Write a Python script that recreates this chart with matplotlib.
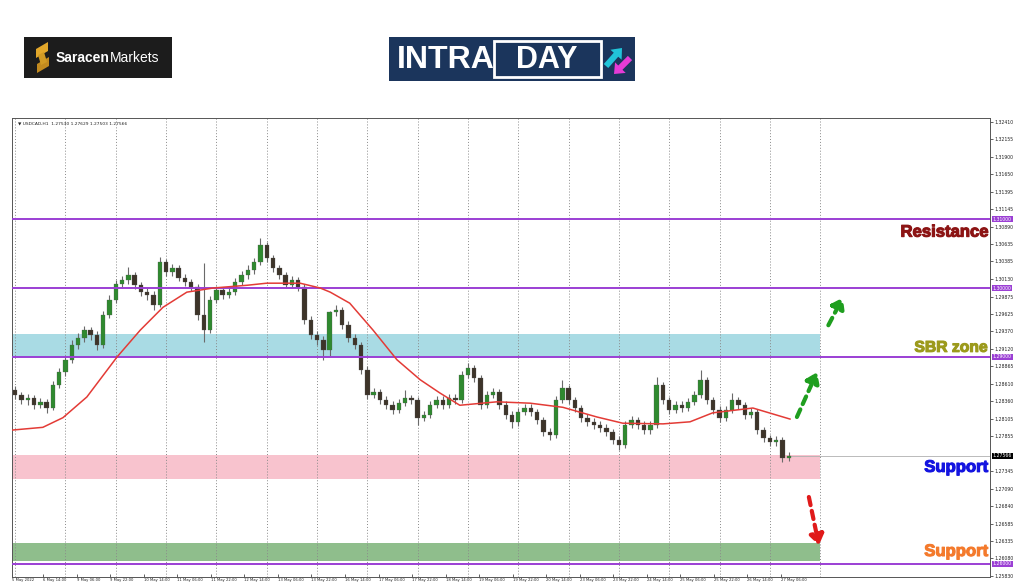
import numpy as np
import matplotlib.pyplot as plt
import matplotlib.patheffects as pe
from matplotlib.patches import Rectangle, Polygon, FancyArrow
from matplotlib import font_manager
from matplotlib.transforms import blended_transform_factory

# USDCAD H1, drawn as 3-hour candles
first_open = 1.2852
closes = [
    1.2845, 1.2838, 1.2840, 1.2830, 1.2835, 1.2826, 1.2859, 1.2878, 1.2896, 1.2917,
    1.2928, 1.2939, 1.2932, 1.2917, 1.2961, 1.2983, 1.3006, 1.3012, 1.3019, 1.3004,
    1.2994, 1.2990, 1.2975, 1.3038, 1.3023, 1.3029, 1.3015, 1.3009, 1.3001, 1.2961,
    1.2939, 1.2983, 1.2997, 1.2990, 1.2994, 1.3009, 1.3019, 1.3026, 1.3038, 1.3062,
    1.3044, 1.3029, 1.3019, 1.3004, 1.3012, 1.3001, 1.2954, 1.2932, 1.2925, 1.2910,
    1.2965, 1.2968, 1.2946, 1.2928, 1.2917, 1.2881, 1.2845, 1.2849, 1.2838, 1.2830,
    1.2823, 1.2833, 1.2840, 1.2838, 1.2812, 1.2816, 1.2830, 1.2838, 1.2830, 1.2840,
    1.2838, 1.2874, 1.2884, 1.2870, 1.2830, 1.2845, 1.2849, 1.2830, 1.2816, 1.2806,
    1.2820, 1.2826, 1.2820, 1.2809, 1.2791, 1.2787, 1.2838, 1.2855, 1.2838, 1.2826,
    1.2812, 1.2806, 1.2801, 1.2797, 1.2791, 1.2780, 1.2772, 1.2801, 1.2809, 1.2801,
    1.2794, 1.2801, 1.2859, 1.2838, 1.2823, 1.2830, 1.2826, 1.2835, 1.2845, 1.2867,
    1.2838, 1.2823, 1.2812, 1.2823, 1.2838, 1.2830, 1.2816, 1.2820, 1.2794, 1.2783,
    1.2777, 1.2780, 1.2754, 1.27566]
highs = [
    1.2858, 1.2849, 1.2846, 1.2845, 1.2840, 1.2839, 1.2865, 1.2884, 1.2901, 1.2925,
    1.2935, 1.2945, 1.2943, 1.2938, 1.2967, 1.2990, 1.3012, 1.3017, 1.3030, 1.3023,
    1.3009, 1.3000, 1.2996, 1.3045, 1.3042, 1.3035, 1.3033, 1.3020, 1.3013, 1.3006,
    1.3036, 1.2988, 1.3003, 1.3001, 1.3000, 1.3015, 1.3025, 1.3033, 1.3044, 1.3073,
    1.3067, 1.3048, 1.3033, 1.3023, 1.3017, 1.3016, 1.3006, 1.2959, 1.2938, 1.2930,
    1.2967, 1.2975, 1.2972, 1.2952, 1.2933, 1.2922, 1.2887, 1.2855, 1.2854, 1.2843,
    1.2836, 1.2839, 1.2852, 1.2845, 1.2842, 1.2822, 1.2836, 1.2843, 1.2843, 1.2846,
    1.2846, 1.2880, 1.2891, 1.2888, 1.2874, 1.2851, 1.2855, 1.2854, 1.2836, 1.2822,
    1.2826, 1.2832, 1.2832, 1.2825, 1.2813, 1.2797, 1.2843, 1.2867, 1.2859, 1.2842,
    1.2830, 1.2817, 1.2812, 1.2807, 1.2803, 1.2796, 1.2785, 1.2807, 1.2814, 1.2813,
    1.2807, 1.2807, 1.2871, 1.2864, 1.2842, 1.2836, 1.2836, 1.2840, 1.2851, 1.2881,
    1.2871, 1.2842, 1.2829, 1.2829, 1.2848, 1.2842, 1.2835, 1.2826, 1.2825, 1.2798,
    1.2787, 1.2785, 1.2784, 1.2762]
lows = [
    1.2839, 1.2832, 1.2830, 1.2825, 1.2826, 1.2819, 1.2823, 1.2855, 1.2872, 1.2891,
    1.2912, 1.2922, 1.2925, 1.2910, 1.2913, 1.2957, 1.2978, 1.3000, 1.3006, 1.2999,
    1.2988, 1.2983, 1.2968, 1.2972, 1.3017, 1.3017, 1.3010, 1.3003, 1.2996, 1.2954,
    1.2922, 1.2935, 1.2978, 1.2984, 1.2985, 1.2990, 1.3004, 1.3013, 1.3020, 1.3033,
    1.3038, 1.3023, 1.3013, 1.3000, 1.3000, 1.2996, 1.2948, 1.2926, 1.2917, 1.2896,
    1.2901, 1.2959, 1.2941, 1.2922, 1.2912, 1.2875, 1.2839, 1.2840, 1.2832, 1.2825,
    1.2817, 1.2819, 1.2829, 1.2832, 1.2801, 1.2807, 1.2812, 1.2826, 1.2825, 1.2826,
    1.2832, 1.2833, 1.2870, 1.2864, 1.2825, 1.2826, 1.2840, 1.2825, 1.2810, 1.2797,
    1.2800, 1.2816, 1.2814, 1.2803, 1.2785, 1.2780, 1.2783, 1.2833, 1.2832, 1.2820,
    1.2806, 1.2800, 1.2796, 1.2791, 1.2785, 1.2774, 1.2765, 1.2768, 1.2797, 1.2796,
    1.2788, 1.2788, 1.2797, 1.2832, 1.2817, 1.2819, 1.2820, 1.2822, 1.2830, 1.2840,
    1.2832, 1.2817, 1.2806, 1.2807, 1.2819, 1.2825, 1.2810, 1.2812, 1.2788, 1.2777,
    1.2771, 1.2771, 1.2748, 1.2749]

# red moving average, sampled at candle positions
ma_idx = [-0.5, 4.4, 7.6, 11.4, 16.2, 19.9, 23.5, 27.3, 31.5, 36.9, 40.0, 45.3, 48.5, 50.1,
          53.2, 56.9, 60.7, 64.4, 67.5, 70.7, 76.6, 81.9, 87.1, 92.5, 96.6, 103.0, 107.3,
          110.9, 117.3, 123.2]
ma_val = [1.2794, 1.2798, 1.2812, 1.2842, 1.2900, 1.2939, 1.2972, 1.2994, 1.3000, 1.3004,
          1.3007, 1.3007, 1.3000, 1.2994, 1.2978, 1.2939, 1.2896, 1.2867, 1.2848, 1.2830,
          1.2835, 1.2833, 1.2827, 1.2813, 1.2804, 1.2803, 1.2806, 1.2819, 1.2826, 1.2810]

levels = [1.3100, 1.3000, 1.2900, 1.2600]
sbr_zone = (1.2900, 1.2933)
pink_zone = (1.2723, 1.2758)
green_zone = (1.2604, 1.2630)

price_ticks = [1.32410, 1.32155, 1.31900, 1.31650, 1.31395, 1.31145, 1.30890, 1.30635,
               1.30385, 1.30130, 1.29875, 1.29625, 1.29370, 1.29120, 1.28865, 1.28610,
               1.28360, 1.28105, 1.27855, 1.27345, 1.27090, 1.26840, 1.26585, 1.26335,
               1.26080, 1.25830]
first_label = '5 May 2022'
time_labels = ['6 May 14:00', '9 May 06:00', '9 May 22:00', '10 May 14:00', '11 May 06:00',
               '11 May 22:00', '12 May 14:00', '13 May 06:00', '13 May 22:00', '16 May 14:00',
               '17 May 06:00', '17 May 22:00', '18 May 14:00', '19 May 06:00', '19 May 22:00',
               '20 May 14:00', '23 May 06:00', '23 May 22:00', '24 May 14:00', '25 May 06:00',
               '25 May 22:00', '26 May 14:00', '27 May 06:00']
header = '\u25bc USDCAD,H1  1.27530 1.27629 1.27503 1.27566'

purple = '#9b3fd4'
fig = plt.figure(figsize=(10.24, 5.87), dpi=100)
ax = fig.add_axes([12/1024, 1 - 577/587, 978/1024, 459/587])
ax.set_xlim(-0.5, 155)
ax.set_ylim(1.2581, 1.32465)

# zones, grid
zx = [-0.5, 128]
ax.fill_between(zx, *sbr_zone, color='#a9dbe4', lw=0, zorder=1)
ax.fill_between(zx, *pink_zone, color='#f8c3ce', lw=0, zorder=1)
ax.fill_between(zx, *green_zone, color='#8fbe8c', lw=0, zorder=1)
for g in range(0, 129, 8):
    ax.axvline(g, color='#8a8a8a', lw=0.7, ls=(0, (1, 2)), zorder=1.5)

# candles
x = np.arange(len(closes))
c = np.array(closes)
o = np.array([first_open] + closes[:-1])
up = c >= o
ax.vlines(x, lows, highs, color='#6a6a6a', lw=0.8, zorder=3)
ax.bar(x, np.maximum(np.abs(c - o), 0.00005), bottom=np.minimum(o, c), width=0.7,
       color=np.where(up, '#2f8a2f', '#3d3429'), edgecolor='#555555', lw=0.2, zorder=4)

ax.plot(ma_idx, ma_val, color='#e33b36', lw=1.1, zorder=6)
for lv in levels:
    ax.axhline(lv, color=purple, lw=1.4, zorder=5)
ax.hlines(closes[-1], len(closes) - 1, 155, color='#b0b0b0', lw=0.6, zorder=2)

# price axis
ax.yaxis.tick_right()
ax.set_yticks(price_ticks)
ax.set_yticklabels([f'{v:.5f}' for v in price_ticks])
ax.tick_params(axis='y', labelsize=3.3, length=2, width=0.5, pad=1.5, colors='#222222')
tick_pos = [-0.5] + [4.44 + 16 / 3 * j for j in range(len(time_labels))]
ax.set_xticks(tick_pos)
ax.set_xticklabels([first_label] + time_labels, ha='left')
ax.tick_params(axis='x', labelsize=2.7, length=2, width=0.5, pad=1, direction='in',
               colors='#222222')
for s in ax.spines.values():
    s.set_color('#555555')
    s.set_linewidth(0.7)

tr = blended_transform_factory(ax.transAxes, ax.transData)
for lv in levels:
    ax.text(1.003, lv, f'{lv:.5f}', transform=tr, fontsize=3.3, color='white', va='center',
            bbox=dict(fc=purple, ec='none', pad=0.5), clip_on=False)
ax.text(1.003, closes[-1], f'{closes[-1]:.5f}', transform=tr, fontsize=3.3, color='white',
        va='center', bbox=dict(fc='black', ec='none', pad=0.5), clip_on=False)
ax.text(0.006, 0.992, header, transform=ax.transAxes, fontsize=3.2, va='top', color='#222222')

# zone captions
names = {f.name for f in font_manager.fontManager.ttflist}
cap = 'Liberation Sans' if 'Liberation Sans' in names else 'DejaVu Sans'
for txt, lv, col, fs in [('Resistance', 1.3081, '#8c1414', 12),
                         ('SBR zone', 1.2914, '#9c9a1c', 11.3),
                         ('Support', 1.2740, '#1414e0', 12),
                         ('Support', 1.2618, '#f47a2c', 12)]:
    ax.text(0.998, lv, txt, transform=tr, ha='right', va='center', fontsize=fs,
            fontweight='bold', family=cap, color=col, zorder=8,
            path_effects=[pe.withStroke(linewidth=0.8, foreground=col)])

# dashed scenario arrows
def dashed_arrow(p0, p1, col):
    ax.annotate('', xy=p1, xytext=p0,
                arrowprops=dict(arrowstyle='-|>,head_length=0.5,head_width=0.35', color=col,
                                lw=3, ls=(0, (2, 1.4)), shrinkA=0, shrinkB=0,
                                mutation_scale=12), zorder=9)

dashed_arrow((124.3, 1.2813), (127.5, 1.2878), '#1f9e1f')
dashed_arrow((129.3, 1.2946), (131.6, 1.2986), '#1f9e1f')
dashed_arrow((126.2, 1.2697), (127.8, 1.2627), '#e01a1a')

# logos in pixel space
lg = fig.add_axes([0, 0, 1, 1])
lg.set_xlim(0, 1024)
lg.set_ylim(587, 0)
lg.set_axis_off()
lg.add_patch(Rectangle((24, 37), 148, 41, fc='#1c1c1c', ec='none'))
lg.add_patch(Polygon([(36, 49), (48, 42), (48, 51), (36, 58)], fc='#e3a82b', ec='none'))
lg.add_patch(Polygon([(37, 64), (49, 57), (49, 66), (37, 73)], fc='#c28a1f', ec='none'))
lg.add_patch(Polygon([(38, 55), (44, 52), (47, 62), (41, 65)], fc='#d19a24', ec='none'))
t1 = lg.text(56, 58, 'Saracen', color='white', fontsize=10, fontweight='bold', family=cap,
             va='center', ha='left')
lg.annotate('Markets', xy=(1, 0.5), xycoords=t1, color='white', fontsize=10, family=cap,
            va='center', ha='left')

lg.add_patch(Rectangle((389, 37), 246, 44, fc='#1b355c', ec='none'))
narrow = 'Liberation Sans Narrow' if 'Liberation Sans Narrow' in names else cap
lg.text(397, 60, 'INTRA', color='white', fontsize=28 if narrow != cap else 23,
        fontweight='bold', family=narrow, va='center', ha='left')
lg.add_patch(Rectangle((494, 41), 107, 36, fc='none', ec='white', lw=2))
lg.text(547, 60, 'DAY', color='white', fontsize=22, fontweight='bold', family=cap,
        va='center', ha='center')
lg.add_patch(FancyArrow(606, 66, 16, -18, width=6, head_width=15, head_length=9,
                        length_includes_head=True, fc='#21c4d8', ec='none'))
lg.add_patch(FancyArrow(630, 58, -16, 16, width=6, head_width=15, head_length=9,
                        length_includes_head=True, fc='#e53bd6', ec='none'))

fig.savefig('out.png', dpi=100, facecolor='white')
